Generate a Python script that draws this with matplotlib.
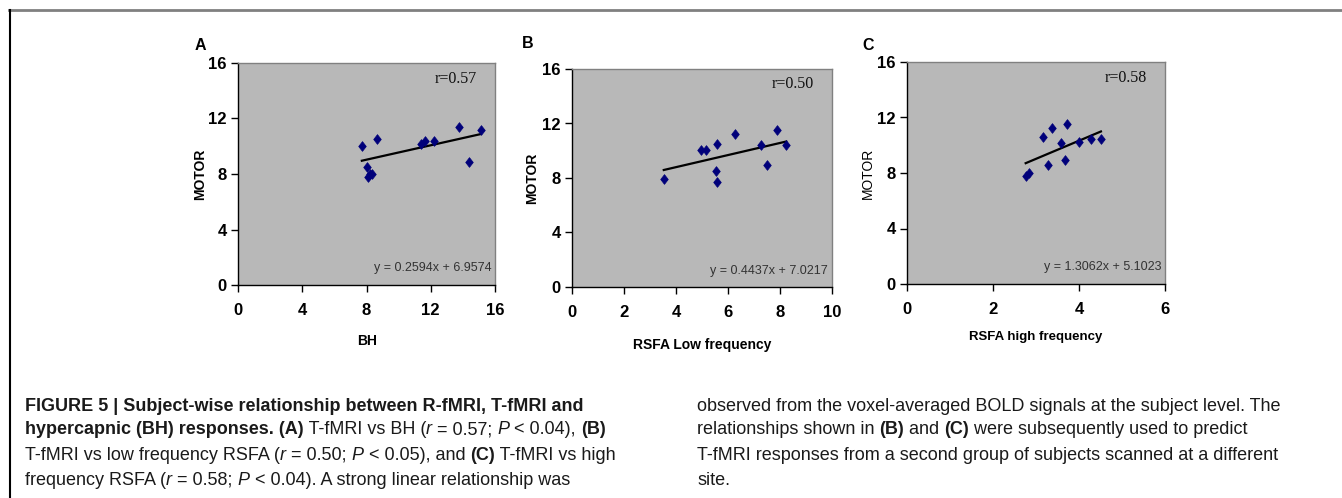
import matplotlib
matplotlib.use("Agg")
import matplotlib.pyplot as plt
from matplotlib.lines import Line2D

# ---------------- data ----------------
A_x = [7.71, 8.02, 8.08, 8.23, 8.35, 8.66, 11.40, 11.65, 12.21, 13.78, 14.40, 15.11]
A_y = [10.05, 8.51, 7.79, 7.99, 8.03, 10.53, 10.14, 10.36, 10.38, 11.41, 8.90, 11.20]
B_x = [3.53, 4.96, 5.15, 5.58, 5.53, 5.59, 6.28, 7.27, 7.50, 7.87, 8.24]
B_y = [7.96, 10.09, 10.09, 10.53, 8.50, 7.69, 11.24, 10.45, 8.92, 11.50, 10.41]
C_x = [2.76, 2.83, 3.17, 3.37, 3.28, 3.58, 3.67, 3.73, 4.01, 4.29, 4.51]
C_y = [7.81, 8.00, 10.61, 11.26, 8.60, 10.13, 8.96, 11.54, 10.20, 10.47, 10.44]

fits = [(0.2594, 6.9574), (0.4437, 7.0217), (1.3062, 5.1023)]
r_labels = ["r=0.57", "r=0.50", "r=0.58"]
eq_labels = ["y = 0.2594x + 6.9574", "y = 0.4437x + 7.0217", "y = 1.3062x + 5.1023"]
panel_letters = ["A", "B", "C"]
x_labels = ["BH", "RSFA Low frequency", "RSFA high frequency"]
y_label = "MOTOR"
y_ticks = [0, 4, 8, 12, 16]
x_ticks = [[0, 4, 8, 12, 16], [0, 2, 4, 6, 8, 10], [0, 2, 4, 6]]

W, H = 1342, 498
fig = plt.figure(figsize=(W / 100, H / 100), dpi=100)
fig.patch.set_facecolor("white")

# axes boxes in pixels (left, top, right, bottom)
boxes = [(238, 63, 495, 285), (572, 69, 832, 287), (907, 62, 1165, 284)]
letter_pos = [(195, 45), (522, 44), (862, 45)]
xlabel_pos = [(367, 341), (702, 345), (1036, 337)]
xlabel_size = [10, 10, 9.5]
ylabel_pad = [1, 2, 2]
ylabel_bold = [True, True, False]

diamond = [(0, 1), (0.78, 0), (0, -1), (-0.78, 0), (0, 1)]

datasets = [(A_x, A_y), (B_x, B_y), (C_x, C_y)]

for i, (box, (xs, ys)) in enumerate(zip(boxes, datasets)):
    l, t, r, b = box
    ax = fig.add_axes([l / W, 1 - b / H, (r - l) / W, (b - t) / H])
    ax.set_facecolor("#b8b8b8")
    ax.set_xlim(x_ticks[i][0], x_ticks[i][-1])
    ax.set_ylim(0, 16)
    ax.set_xticks(x_ticks[i])
    ax.set_yticks(y_ticks)
    ax.tick_params(direction="out", length=5, width=1, labelsize=12)
    ax.tick_params(axis="x", pad=8)
    ax.tick_params(axis="y", pad=3)
    for lab in ax.get_xticklabels() + ax.get_yticklabels():
        lab.set_fontweight("bold")
        lab.set_family("Liberation Sans")
    for s in ("top", "right"):
        ax.spines[s].set_color("#808080")
        ax.spines[s].set_linewidth(1)
    for s in ("left", "bottom"):
        ax.spines[s].set_color("black")
        ax.spines[s].set_linewidth(1)
    m, c = fits[i]
    x0, x1 = min(xs), max(xs)
    ax.plot([x0, x1], [m * x0 + c, m * x1 + c], color="black", lw=1.6, zorder=2)
    ax.plot(xs, ys, linestyle="none", marker=diamond, markersize=7,
            color="#00007a", markeredgecolor="#00007a", markeredgewidth=0.5, zorder=3)
    ax.text(0.93, 0.93, r_labels[i], transform=ax.transAxes, ha="right", va="center",
            family="Liberation Serif", fontsize=11.5, color="#111111")
    ax.text(0.985, 0.075, eq_labels[i], transform=ax.transAxes, ha="right", va="center",
            family="Liberation Sans", fontsize=9, color="#333333")
    ax.set_ylabel(y_label, fontsize=10, fontweight="bold" if ylabel_bold[i] else "normal",
                  family="Liberation Sans", labelpad=ylabel_pad[i])
    lx, ly = letter_pos[i]
    fig.text(lx / W, 1 - ly / H, panel_letters[i], fontsize=11.5, fontweight="bold",
             family="Liberation Sans", ha="left", va="center")
    xx, xy = xlabel_pos[i]
    fig.text(xx / W, 1 - xy / H, x_labels[i], fontsize=xlabel_size[i], fontweight="bold",
             family="Liberation Sans", ha="center", va="center")

# frame lines of the figure box
fig.add_artist(Line2D([9 / W, 1], [1 - 10.5 / H, 1 - 10.5 / H], color="#808080", lw=2,
                      transform=fig.transFigure))
fig.add_artist(Line2D([9.5 / W, 9.5 / W], [0, 1 - 10 / H], color="black", lw=1.5,
                      transform=fig.transFigure))

# ---------------- caption ----------------
cap_family = ["Liberation Sans Narrow", "Liberation Sans"]
cap_size = 13
renderer = fig.canvas.get_renderer()


def run_width(s, weight, style):
    t1 = fig.text(0, 0, "|" + s + "|", fontsize=cap_size, family=cap_family,
                  fontweight=weight, fontstyle=style)
    t2 = fig.text(0, 0, "||", fontsize=cap_size, family=cap_family,
                  fontweight=weight, fontstyle=style)
    w = t1.get_window_extent(renderer).width - t2.get_window_extent(renderer).width
    t1.remove()
    t2.remove()
    return w


def draw_line(x, y, runs):
    for s, kind in runs:
        weight = "bold" if kind == "b" else "normal"
        style = "italic" if kind == "i" else "normal"
        fig.text(x / W, 1 - y / H, s, fontsize=cap_size, family=cap_family,
                 fontweight=weight, fontstyle=style, ha="left", va="center",
                 color="#1a1a1a")
        x += run_width(s, weight, style)


col1 = [
    [("FIGURE 5 | Subject-wise relationship between R-fMRI, T-fMRI and", "b")],
    [("hypercapnic (BH) responses. (A)", "b"), (" T-fMRI vs BH (", "n"), ("r", "i"),
     (" = 0.57; ", "n"), ("P", "i"), (" < 0.04), ", "n"), ("(B)", "b")],
    [("T-fMRI vs low frequency RSFA (", "n"), ("r", "i"), (" = 0.50; ", "n"), ("P", "i"),
     (" < 0.05), and ", "n"), ("(C)", "b"), (" T-fMRI vs high", "n")],
    [("frequency RSFA (", "n"), ("r", "i"), (" = 0.58; ", "n"), ("P", "i"),
     (" < 0.04). A strong linear relationship was", "n")],
]
col2 = [
    [("observed from the voxel-averaged BOLD signals at the subject level. The", "n")],
    [("relationships shown in ", "n"), ("(B)", "b"), (" and ", "n"), ("(C)", "b"),
     (" were subsequently used to predict", "n")],
    [("T-fMRI responses from a second group of subjects scanned at a different", "n")],
    [("site.", "n")],
]
line_y = [406, 430, 455, 480]
for y, runs in zip(line_y, col1):
    draw_line(25, y, runs)
for y, runs in zip(line_y, col2):
    draw_line(697, y, runs)

fig.savefig("out.png", dpi=100, facecolor="white")
